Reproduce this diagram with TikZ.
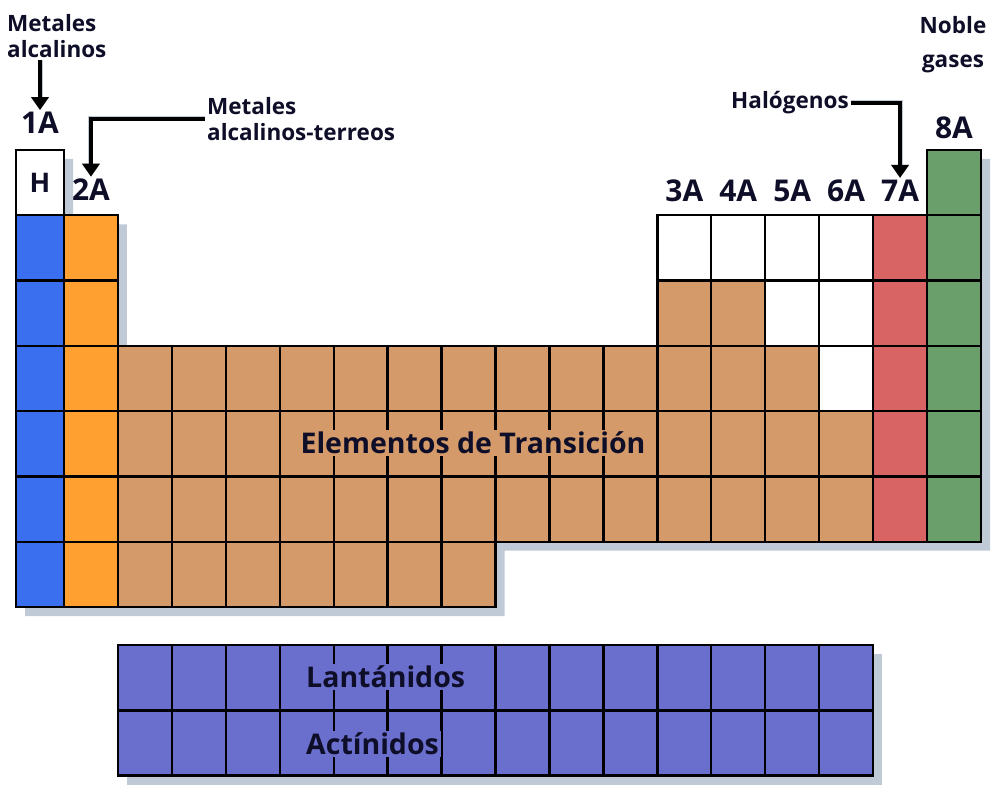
\documentclass[tikz,border=0pt]{standalone}
\usepackage{fontspec}
\setmainfont{Open Sans}
\usetikzlibrary{arrows.meta,positioning}

\definecolor{alkblue}{RGB}{58,112,240}
\definecolor{earthorange}{RGB}{255,160,48}
\definecolor{transtan}{RGB}{212,154,106}
\definecolor{halored}{RGB}{216,100,100}
\definecolor{noblegreen}{RGB}{106,158,106}
\definecolor{lanthpurple}{RGB}{106,110,204}
\definecolor{shadowgray}{RGB}{192,202,214}
\definecolor{inkblue}{RGB}{14,14,40}

\tikzset{
  cell/.style={draw=black, line width=2.4pt, minimum width=53.94pt,
               minimum height=65.3pt, inner sep=0pt, outer sep=0pt},
  grouplbl/.style={font=\fontsize{30}{34}\selectfont\bfseries, text=inkblue, inner sep=2pt},
  famlbl/.style={font=\fontsize{22.5}{26}\selectfont\bfseries, text=inkblue,
                 align=left, inner sep=2pt},
  blocklbl/.style={font=\fontsize{28.5}{32}\selectfont\bfseries, text=inkblue, inner sep=2pt},
  bigarrow/.style={line width=4.5pt, -{Triangle[width=17pt,length=13pt]}},
  arrowshadow/.style={draw=shadowgray, line width=5pt,
                      -{Triangle[width=18pt,length=13pt]}},
}

% one element box: column, row, colour
\newcommand{\elemcell}[3]{%
  \pgfmathsetmacro{\elx}{64+(#1-1.5)*53.94}%
  \pgfmathsetmacro{\ely}{150+(#2-0.5)*65.3}%
  \node[cell, fill=#3] (e-#1-#2) at (\elx,\ely) {};}

\begin{document}
\begin{tikzpicture}[x=1pt, y=-1pt]
  \useasboundingbox (0,0) rectangle (1000,799);

  % drop shadows
  \fill[shadowgray, shift={(9,9)}] (16,150) -- (64,150) -- (64,215.3) -- (117.9,215.3)
    -- (117.9,345.9) -- (657.3,345.9) -- (657.3,215.3) -- (927,215.3) -- (927,150)
    -- (981,150) -- (981,541.7) -- (495.5,541.7) -- (495.5,607) -- (16,607) -- cycle;
  \fill[shadowgray, shift={(9,9)}] (117.9,645) rectangle (873.1,776);

  % column 1
  \node[cell, minimum width=48pt, fill=white] (e-1-1) at (40,182.65)
    {\fontsize{27}{27}\selectfont\bfseries\color{inkblue}H};
  \foreach \r in {2,...,7} {
    \pgfmathsetmacro{\ely}{150+(\r-0.5)*65.3}
    \node[cell, minimum width=48pt, fill=alkblue] (e-1-\r) at (40,\ely) {};
  }
  % column 2
  \foreach \r in {2,...,7} {\elemcell{2}{\r}{earthorange}}
  % transition block
  \foreach \c in {3,...,12} {
    \foreach \r in {4,5,6} {\elemcell{\c}{\r}{transtan}}
  }
  \foreach \c in {3,...,9} {\elemcell{\c}{7}{transtan}}
  % p block
  \foreach \c in {13,...,16} {\elemcell{\c}{2}{white}}
  \elemcell{13}{3}{transtan}
  \elemcell{14}{3}{transtan}
  \elemcell{15}{3}{white}
  \elemcell{16}{3}{white}
  \foreach \c in {13,14,15} {\elemcell{\c}{4}{transtan}}
  \elemcell{16}{4}{white}
  \foreach \c in {13,...,16} {
    \foreach \r in {5,6} {\elemcell{\c}{\r}{transtan}}
  }
  \foreach \r in {2,...,6} {\elemcell{17}{\r}{halored}}
  \foreach \r in {1,...,6} {\elemcell{18}{\r}{noblegreen}}

  % lanthanides and actinides
  \foreach \c in {3,...,16} {
    \pgfmathsetmacro{\elx}{64+(\c-1.5)*53.94}
    \node[cell, fill=lanthpurple] (la-\c) at (\elx,677.7) {};
    \node[cell, fill=lanthpurple] (ac-\c) at (\elx,743) {};
  }

  % group numbers
  \node[grouplbl, above=14pt of e-1-1] (g1A) {1A};
  \node[grouplbl, above=12.5pt of e-2-2] (g2A) {2A};
  \node[grouplbl, above=11.5pt of e-13-2] (g3A) {3A};
  \node[grouplbl, above=11.5pt of e-14-2] (g4A) {4A};
  \node[grouplbl, above=11.5pt of e-15-2] (g5A) {5A};
  \node[grouplbl, above=11.5pt of e-16-2] (g6A) {6A};
  \node[grouplbl, above=11.5pt of e-17-2] (g7A) {7A};
  \node[grouplbl, above=9pt of e-18-1] (g8A) {8A};

  % family names
  \node[famlbl, anchor=west] (alkali) at (5,36) {Metales\\alcalinos};
  \node[famlbl, anchor=west] (earth) at (205,119) {Metales\\alcalinos-terreos};
  \node[famlbl, anchor=west] (halo) at (729,103) {Halógenos};
  \node[famlbl, align=center] (noble) at (953,45) {Noble\\[8pt]gases};

  \node[blocklbl, fill=transtan] (trans) at (473,443) {Elementos de Transición};
  \node[blocklbl, fill=lanthpurple, anchor=west] (lanth) at (304,677) {Lantánidos};
  \node[blocklbl, fill=lanthpurple, anchor=west] (actin) at (304,744) {Actínidos};

  % arrows
  \begin{scope}[shift={(10,8)}]
    \draw[arrowshadow] (alkali.south -| g1A) -- (g1A.north);
    \draw[arrowshadow] (earth.west) -| (g2A.north);
    \draw[arrowshadow] (halo.east) -| (g7A.north);
  \end{scope}
  \draw[bigarrow] (alkali.south -| g1A) -- (g1A.north);
  \draw[bigarrow] (earth.west) -| (g2A.north);
  \draw[bigarrow] (halo.east) -| (g7A.north);
\end{tikzpicture}
\end{document}
